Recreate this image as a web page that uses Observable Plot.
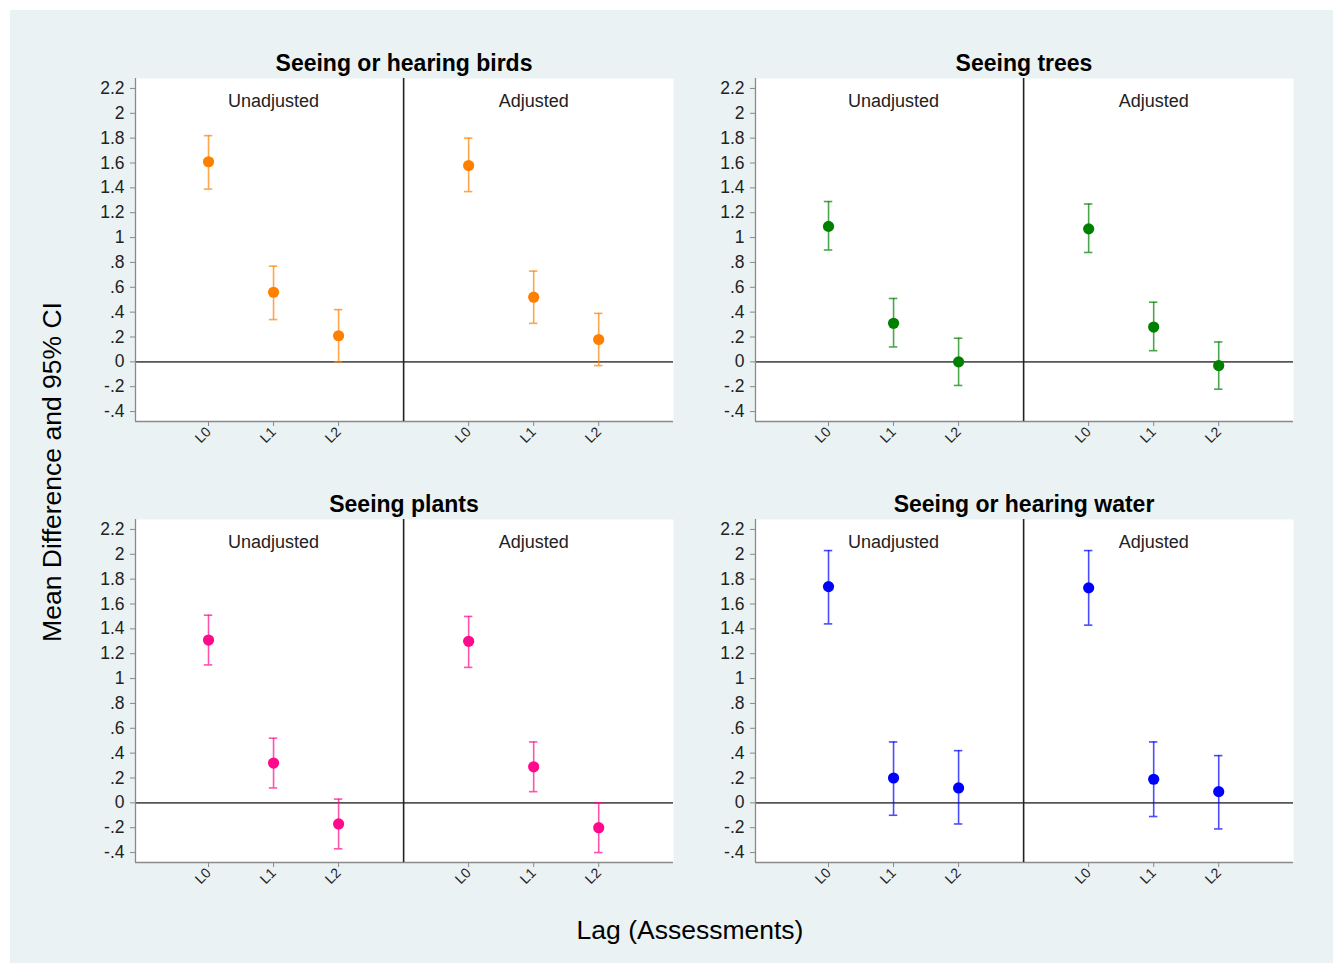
<!DOCTYPE html>
<html>
<head>
<meta charset="utf-8">
<script src="https://cdn.jsdelivr.net/npm/d3@7"></script>
<script src="https://cdn.jsdelivr.net/npm/@observablehq/plot@0.6"></script>
<style>
  html, body { margin: 0; padding: 0; background: #ffffff; }
  #root { position: relative; width: 1338px; height: 963px; background: #ffffff; overflow: hidden;
          font-family: "Liberation Sans", Arial, sans-serif; }
  #bg { position: absolute; left: 10px; top: 10px; width: 1323px; height: 953px; background: #eaf2f3; }
  .panel { position: absolute; }
  .title { position: absolute; font-weight: bold; font-size: 23px; color: #000; transform: translateX(-50%); white-space: nowrap; }
  .axtitle { position: absolute; font-size: 26.5px; color: #000; white-space: nowrap; }
</style>
</head>
<body>
<div id="root"><div id="bg"></div></div>
<script>
// ---- data ----
const lags = ["L0", "L1", "L2"];
const lagIndex = [0, 1, 2];
const models = ["Unadjusted", "Adjusted"];
const yTicks = [-0.4, -0.2, 0, 0.2, 0.4, 0.6, 0.8, 1, 1.2, 1.4, 1.6, 1.8, 2, 2.2];
const yTickLabels = ["-.4", "-.2", "0", ".2", ".4", ".6", ".8", "1", "1.2", "1.4", "1.6", "1.8", "2", "2.2"];
const panelTitles = ["Seeing or hearing birds", "Seeing trees", "Seeing plants", "Seeing or hearing water"];
const panelColors = ["#ff8000", "#008000", "#ff0a8c", "#0000ff"];

// values ordered: Unadjusted L0, L1, L2, Adjusted L0, L1, L2
const birdsMean = [1.61, 0.56, 0.21, 1.58, 0.52, 0.18];
const birdsLo   = [1.39, 0.34, 0.00, 1.37, 0.31, -0.03];
const birdsHi   = [1.82, 0.77, 0.42, 1.80, 0.73, 0.39];

const treesMean = [1.09, 0.31, 0.00, 1.07, 0.28, -0.03];
const treesLo   = [0.90, 0.12, -0.19, 0.88, 0.09, -0.22];
const treesHi   = [1.29, 0.51, 0.19, 1.27, 0.48, 0.16];

const plantsMean = [1.31, 0.32, -0.17, 1.30, 0.29, -0.20];
const plantsLo   = [1.11, 0.12, -0.37, 1.09, 0.09, -0.40];
const plantsHi   = [1.51, 0.52, 0.03, 1.50, 0.49, 0.00];

const waterMean = [1.74, 0.20, 0.12, 1.73, 0.19, 0.09];
const waterLo   = [1.44, -0.10, -0.17, 1.43, -0.11, -0.21];
const waterHi   = [2.03, 0.49, 0.42, 2.03, 0.49, 0.38];

const panelMeans = [birdsMean, treesMean, plantsMean, waterMean];
const panelLos = [birdsLo, treesLo, plantsLo, waterLo];
const panelHis = [birdsHi, treesHi, plantsHi, waterHi];

const xtitle = "Lag (Assessments)";
const ytitle = "Mean Difference and 95% CI";

// ---- layout ----
const FONT = "'Liberation Sans', Arial, sans-serif";
const groupGap = 4;              // Adjusted block starts 4 positions after Unadjusted
const xDomain = [-1.123, 7.15];
const yDomain = [-0.48, 2.28];
const positions = [[75, 40], [695, 40], [75, 481], [695, 481]];
const root = document.getElementById("root");

const tickPos = [];
const tickLab = [];
models.forEach((m, mi) => lagIndex.forEach(l => { tickPos.push(l + mi * groupGap); tickLab.push(lags[l]); }));

function makePanel(k) {
  const data = [];
  models.forEach((m, mi) => lagIndex.forEach((l, li) => {
    const i = mi * 3 + li;
    data.push({model: m, pos: l + mi * groupGap, mean: panelMeans[k][i], lo: panelLos[k][i], hi: panelHis[k][i]});
  }));
  const color = panelColors[k];
  const capHalf = 0.065;
  const chart = Plot.plot({
    width: 608, height: 421,
    marginLeft: 60, marginRight: 10, marginTop: 38, marginBottom: 40,
    style: {background: "transparent", fontFamily: FONT, color: "#222", overflow: "visible"},
    x: {domain: xDomain, axis: null},
    y: {domain: yDomain, axis: null},
    marks: [
      Plot.frame({fill: "white", stroke: null}),
      Plot.ruleY([0], {stroke: "#555", strokeWidth: 1.6}),
      Plot.ruleY([yDomain[0]], {stroke: "#8a8a8a", strokeWidth: 1.3}),
      Plot.ruleX([xDomain[0]], {stroke: "#8a8a8a", strokeWidth: 1.3}),
      Plot.ruleX([groupGap - 1], {stroke: "#222", strokeWidth: 1.6}),
      Plot.axisY({ticks: yTicks, tickFormat: v => yTickLabels[yTicks.indexOf(v)], tickSize: 5, tickPadding: 6,
                  stroke: "#8a8a8a", fill: "#222", fontSize: 17.5, label: null}),
      Plot.axisX({ticks: tickPos, tickFormat: v => tickLab[tickPos.indexOf(v)], tickSize: 5, tickPadding: 3, tickRotate: -45,
                  stroke: "#8a8a8a", fill: "#222", fontSize: 14, label: null}),
      Plot.text(models, {x: (d, i) => 1 + i * groupGap, text: d => d, frameAnchor: "top", dy: 16,
                         fontSize: 18, fill: "#222"}),
      Plot.ruleX(data, {x: "pos", y1: "lo", y2: "hi", stroke: color, strokeOpacity: 0.7, strokeWidth: 1.6}),
      Plot.ruleY(data, {y: "hi", x1: d => d.pos - capHalf, x2: d => d.pos + capHalf, stroke: color, strokeOpacity: 0.7, strokeWidth: 1.6}),
      Plot.ruleY(data, {y: "lo", x1: d => d.pos - capHalf, x2: d => d.pos + capHalf, stroke: color, strokeOpacity: 0.7, strokeWidth: 1.6}),
      Plot.dot(data, {x: "pos", y: "mean", fill: color, r: 5.6})
    ]
  });
  const wrap = document.createElement("div");
  wrap.className = "panel";
  wrap.style.left = positions[k][0] + "px";
  wrap.style.top = positions[k][1] + "px";
  wrap.appendChild(chart);
  root.appendChild(wrap);

  const t = document.createElement("div");
  t.className = "title";
  t.textContent = panelTitles[k];
  t.style.left = (positions[k][0] + 60 + 269) + "px";
  t.style.top = (positions[k][1] + 10) + "px";
  root.appendChild(t);
}
[0, 1, 2, 3].forEach(makePanel);

const xt = document.createElement("div");
xt.className = "axtitle";
xt.textContent = xtitle;
xt.style.left = "690px"; xt.style.top = "915px"; xt.style.transform = "translateX(-50%)";
root.appendChild(xt);

const yt = document.createElement("div");
yt.className = "axtitle";
yt.textContent = ytitle;
yt.style.left = "52px"; yt.style.top = "472px";
yt.style.transform = "translate(-50%, -50%) rotate(-90deg)";
root.appendChild(yt);
</script>
</body>
</html>
